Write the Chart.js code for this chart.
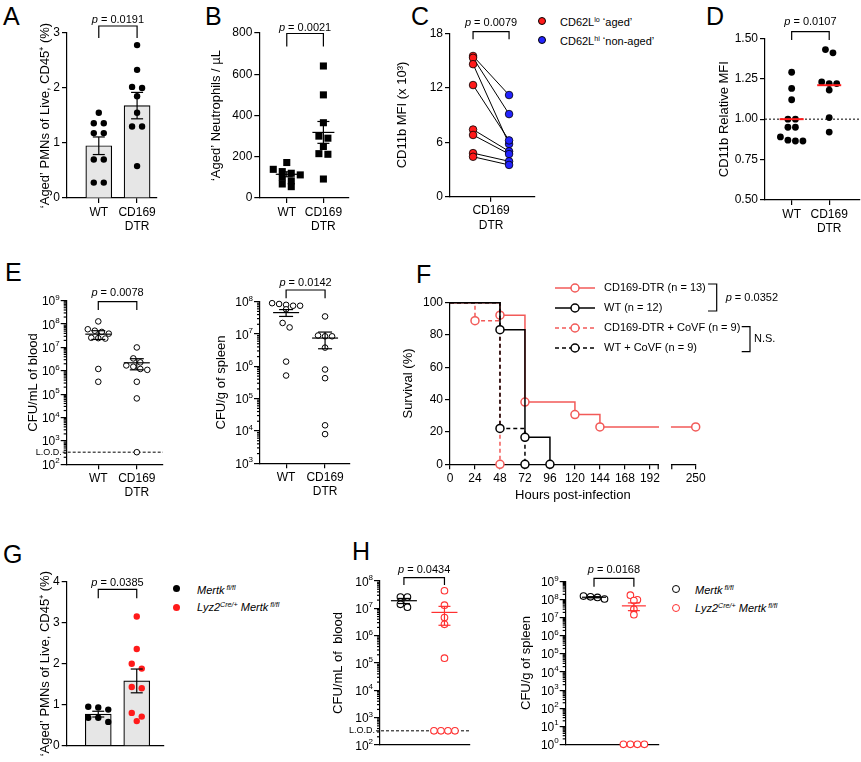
<!DOCTYPE html>
<html>
<head>
<meta charset="utf-8">
<title>Aged neutrophils figure</title>
<script src="https://cdn.jsdelivr.net/npm/chart.js@4.4.1/dist/chart.umd.min.js"></script>
<style>
  body { margin: 0; background: #fff; }
  #fig { position: relative; width: 861px; height: 762px; overflow: hidden; background: #fff;
         font-family: "Liberation Sans", Arial, Helvetica, sans-serif; color: #000; }
  #fig canvas { position: absolute; }
  .letter { position: absolute; font-size: 25px; line-height: 25px; }
  .lg { position: absolute; font-size: 11px; line-height: 14px; white-space: nowrap; }
  .lg sup { font-size: 65%; line-height: 0; vertical-align: 0.6em; }
  .lg i sup { font-style: italic; }
  .mk { position: absolute; width: 8px; height: 8px; border-radius: 50%; box-sizing: border-box; }
</style>
</head>
<body>
<div id="fig">
  <div class="letter" style="left:3px;top:4px">A</div>
  <div class="letter" style="left:205px;top:4px">B</div>
  <div class="letter" style="left:411px;top:4px">C</div>
  <div class="letter" style="left:706px;top:4px">D</div>
  <div class="letter" style="left:5px;top:260px">E</div>
  <div class="letter" style="left:416px;top:262px">F</div>
  <div class="letter" style="left:3px;top:542px">G</div>
  <div class="letter" style="left:352px;top:539px">H</div>

  <div class="mk" style="left:538px;top:17px;background:#ff1a1a;border:1px solid #000"></div>
  <div class="lg" style="left:560px;top:15px">CD62L<sup>lo</sup> ‘aged’</div>
  <div class="mk" style="left:538px;top:36px;background:#2323ff;border:1px solid #000"></div>
  <div class="lg" style="left:560px;top:34px">CD62L<sup>hi</sup> ‘non-aged’</div>

  <div class="mk" style="left:173px;top:585px;width:7px;height:7px;background:#000"></div>
  <div class="lg" style="left:197px;top:583px"><i>Mertk<sup> fl/fl</sup></i></div>
  <div class="mk" style="left:173px;top:604px;width:7px;height:7px;background:#ff1a1a"></div>
  <div class="lg" style="left:197px;top:600px"><i>Lyz2<sup>Cre/+</sup> Mertk<sup> fl/fl</sup></i></div>

  <div class="mk" style="left:672px;top:585px;border:1.2px solid #000"></div>
  <div class="lg" style="left:695px;top:583px"><i>Mertk<sup> fl/fl</sup></i></div>
  <div class="mk" style="left:672px;top:604px;border:1.2px solid #ff3030"></div>
  <div class="lg" style="left:695px;top:601px"><i>Lyz2<sup>Cre/+</sup> Mertk<sup> fl/fl</sup></i></div>
</div>

<script>
// ---- data ----
const wtDtrLabels = ['WT', ['CD169', 'DTR']];

// A: 'aged' PMNs, % of live CD45+
const agedPmnWT   = [1.55, 1.36, 1.36, 1.18, 1.18, 0.70, 0.70, 0.28, 0.28];
const agedPmnDTR  = [2.78, 2.33, 2.02, 2.00, 1.85, 1.55, 1.30, 1.30, 0.58];
const agedPmnMean = [0.95, 1.68];
const agedPmnSem  = [0.16, 0.24];

// B: 'aged' neutrophils per uL
const agedNeutWT   = [172, 139, 128, 120, 112, 100, 83, 68, 55];
const agedNeutDTR  = [640, 500, 365, 300, 290, 250, 215, 212, 92];
const agedNeutMean = [115, 318];
const agedNeutSem  = [12, 53];

// C: CD11b MFI (x 10^3), paired
const cd11bAged    = [15.5, 15.3, 14.6, 12.3, 7.4, 6.8, 4.8, 4.4];
const cd11bNonAged = [11.2, 9.1, 5.8, 6.2, 5.0, 4.7, 3.9, 3.5];

// D: CD11b relative MFI
const relMfiWT     = [1.29, 1.19, 1.12, 1.00, 1.00, 0.95, 0.95, 0.89, 0.87, 0.865, 0.865];
const relMfiDTR    = [1.43, 1.41, 1.23, 1.22, 1.22, 1.18, 1.01, 0.92];
const relMfiMedian = [1.00, 1.21];

// E: CFU
const lodCfu        = 330;
const bloodCfuWT    = [1.3e8, 6.0e7, 5.2e7, 4.6e7, 3.9e7, 2.6e7, 2.5e7, 2.4e7, 1.2e6, 3.4e5];
const bloodCfuDTR   = [1.0e7, 3.4e6, 2.3e6, 1.7e6, 1.5e6, 1.2e6, 1.1e6, 3.4e5, 6.6e4, 330];
const bloodCfuMean  = [3.7e7, 2.2e6];
const bloodCfuSem   = [1.5e7, 1.1e6];
const spleenCfuWT   = [9.0e7, 8.5e7, 8.0e7, 7.5e7, 7.5e7, 5.8e7, 2.2e7, 1.6e7, 1.4e6, 5.2e5];
const spleenCfuDTR  = [3.5e7, 9.0e6, 8.5e6, 8.5e6, 3.8e6, 8.0e5, 4.3e5, 1.5e4, 8.0e3];
const spleenCfuMean = [4.6e7, 7.5e6];
const spleenCfuSem  = [1.1e7, 4.0e6];

// F: survival (hours, % surviving)
const survTickHours = [0, 24, 48, 72, 96, 120, 144, 168, 192, 250];
const survDtrT      = [0, 48, 72, 120, 144, 250];
const survDtrS      = [100, 92.3, 38.5, 30.8, 23.1, 23.1];
const survWtT       = [0, 48, 72, 96];
const survWtS       = [100, 83.3, 16.7, 0];
const survDtrCovfT  = [0, 24, 48];
const survDtrCovfS  = [100, 88.9, 0];
const survWtCovfT   = [0, 48, 72];
const survWtCovfS   = [100, 22.2, 0];

// G: 'aged' PMNs, Mertk
const mertkAgedWT   = [0.88, 0.95, 0.93, 0.58, 0.68, 0.68];
const mertkAgedKO   = [3.15, 2.36, 2.00, 1.88, 1.43, 1.40, 0.80, 0.71, 0.60];
const mertkAgedMean = [0.77, 1.58];
const mertkAgedSem  = [0.07, 0.29];

// H: CFU, Mertk (values at the axis floor were below detection)
const mertkBloodWT    = [2.6e7, 2.6e7, 1.4e7, 1.1e7];
const mertkBloodKO    = [4.4e7, 1.3e7, 4.6e6, 2.6e6, 1.5e5, 330, 330, 330, 330];
const mertkBloodMean  = [1.9e7, 7.1e6];
const mertkBloodSem   = [4.0e6, 4.7e6];
const mertkSpleenWT   = [1.1e8, 1.35e8, 1.6e8, 1.45e8];
const mertkSpleenKO   = [1.8e8, 1.0e8, 9.0e7, 3.0e7, 1.5e7, 1, 1, 1, 1];
const mertkSpleenMean = [1.38e8, 4.6e7];
const mertkSpleenSem  = [1.0e7, 2.1e7];

// ---- helpers ----
const FONT = '"Liberation Sans", Arial, Helvetica, sans-serif';
const RED = '#ff1a1a', BLUE = '#2323ff', SALMON = '#f25a58', HRED = '#ff3030';

Chart.defaults.font.family = FONT;
Chart.defaults.color = '#000';
Chart.defaults.animation = false;
Chart.defaults.events = [];
Chart.defaults.plugins.legend.display = false;
Chart.defaults.plugins.tooltip.enabled = false;

const fig = document.getElementById('fig');

function line(ctx, x1, y1, x2, y2) {
    ctx.beginPath(); ctx.moveTo(x1, y1); ctx.lineTo(x2, y2); ctx.stroke();
}

function pText(ctx, val, x, cy, size, align) {
    ctx.font = 'italic ' + size + 'px ' + FONT;
    const w1 = ctx.measureText('p').width;
    ctx.font = size + 'px ' + FONT;
    const rest = ' = ' + val;
    const w2 = ctx.measureText(rest).width;
    const x0 = align === 'left' ? x : x - (w1 + w2) / 2;
    ctx.textAlign = 'left'; ctx.textBaseline = 'middle'; ctx.fillStyle = '#000';
    ctx.font = 'italic ' + size + 'px ' + FONT;
    ctx.fillText('p', x0, cy);
    ctx.font = size + 'px ' + FONT;
    ctx.fillText(rest, x0 + w1, cy);
}

// prism-style extras: minor log ticks, 10^n labels, error bars, brackets, reference lines
const prism = {
    id: 'prism',
    beforeDatasetsDraw(chart, args, o) {
        if (!o.hline) return;
        const {ctx, chartArea: a, scales: {y}} = chart;
        const h = o.hline, py = y.getPixelForValue(h.value);
        ctx.save();
        ctx.strokeStyle = '#000'; ctx.lineWidth = 1; ctx.setLineDash(h.dash);
        line(ctx, h.label ? a.left - 4 : a.left, py, a.right, py);
        ctx.setLineDash([]);
        if (h.label) {
            ctx.font = '9px ' + FONT; ctx.textAlign = 'right'; ctx.textBaseline = 'middle'; ctx.fillStyle = '#000';
            ctx.fillText(h.label, a.left - 5, py);
        }
        ctx.restore();
    },
    afterDatasetsDraw(chart, args, o) {
        const {ctx, chartArea: a, scales: {x, y}} = chart;
        ctx.save();
        ctx.strokeStyle = '#000'; ctx.fillStyle = '#000'; ctx.lineWidth = 1.2;
        if (y.type === 'logarithmic') {
            const lo = Math.round(Math.log10(y.min)), hi = Math.round(Math.log10(y.max));
            for (let e = lo; e < hi; e++) {
                for (let m = 2; m < 10; m++) {
                    const py = y.getPixelForValue(m * Math.pow(10, e));
                    line(ctx, a.left - 3, py, a.left, py);
                }
            }
            ctx.textAlign = 'right'; ctx.textBaseline = 'alphabetic';
            for (let e = lo; e <= hi; e++) {
                const py = y.getPixelForValue(Math.pow(10, e));
                ctx.font = '8px ' + FONT;
                const ew = ctx.measureText(String(e)).width;
                ctx.fillText(String(e), a.left - 7, py - 1);
                ctx.font = '12px ' + FONT;
                ctx.fillText('10', a.left - 7 - ew, py + 4.5);
            }
        }
        if (o.err) {
            const e = o.err;
            e.mean.forEach((m, i) => {
                const px = x.getPixelForValue(i);
                ctx.strokeStyle = (e.colors && e.colors[i]) || '#000';
                ctx.lineWidth = e.lw || 1.2;
                const pm = y.getPixelForValue(m);
                if (e.meanW) line(ctx, px - e.meanW / 2, pm, px + e.meanW / 2, pm);
                if (e.sem) {
                    const pt = y.getPixelForValue(m + e.sem[i]);
                    const pb = y.getPixelForValue(Math.max(m - e.sem[i], y.min));
                    line(ctx, px, pt, px, pb);
                    line(ctx, px - e.capW / 2, pt, px + e.capW / 2, pt);
                    line(ctx, px - e.capW / 2, pb, px + e.capW / 2, pb);
                }
            });
        }
        if (o.bracket) {
            const b = o.bracket;
            const xa = x.getPixelForValue(b.from), xb = x.getPixelForValue(b.to);
            const yt = a.top + b.top;
            ctx.strokeStyle = '#000'; ctx.lineWidth = 1.2;
            ctx.beginPath();
            ctx.moveTo(xa, yt + b.leg); ctx.lineTo(xa, yt); ctx.lineTo(xb, yt); ctx.lineTo(xb, yt + b.leg);
            ctx.stroke();
            pText(ctx, b.text, (xa + xb) / 2, a.top + b.ty, 11);
        }
        ctx.restore();
    }
};

function yPx(p, v) {
    const {y0, y1} = p.plot;
    if (p.log) {
        const lo = Math.log10(p.yr[0]), hi = Math.log10(p.yr[1]);
        return y1 - (Math.log10(v) - lo) / (hi - lo) * (y1 - y0);
    }
    return y1 - (v - p.yr[0]) / (p.yr[1] - p.yr[0]) * (y1 - y0);
}

// spread points of similar value into symmetric rows (pixel offsets)
function swarm(vals, toPx, gap) {
    const order = vals.map((v, i) => i).sort((a, b) => vals[b] - vals[a]);
    const off = vals.map(() => 0);
    let row = [];
    const flush = () => {
        row.forEach((i, k) => { off[i] = (k - (row.length - 1) / 2) * gap; });
        row = [];
    };
    order.forEach(i => {
        if (row.length && Math.abs(toPx(vals[i]) - toPx(vals[row[0]])) > gap * 0.7) flush();
        row.push(i);
    });
    flush();
    return off;
}

function dots(p, vals, group, gap, style) {
    const perCat = (p.plot.x1 - p.plot.x0) / (p.xr[1] - p.xr[0]);
    const off = swarm(vals, v => yPx(p, v), gap);
    return Object.assign({
        type: 'scatter',
        data: vals.map((v, k) => ({x: group + off[k] / perCat, y: v})),
        clip: false, order: 0,
        pointRadius: 3, pointBorderWidth: 0, pointBackgroundColor: '#000', pointBorderColor: '#000'
    }, style);
}

function bars(means) {
    return {
        type: 'bar', data: means.map((m, i) => ({x: i, y: m})),
        backgroundColor: '#e6e6e6', borderColor: '#000', borderWidth: 1.2,
        barThickness: 26, order: 2
    };
}

function panel(p) {
    const cv = document.createElement('canvas');
    cv.width = p.box.w; cv.height = p.box.h;
    cv.style.left = p.box.l + 'px'; cv.style.top = p.box.t + 'px';
    fig.appendChild(cv);
    const titleLh = 13 * 1.2;
    const scaleLeft = p.titleX - titleLh / 2;
    const yTicks = p.log
        ? Array.from({length: Math.round(Math.log10(p.yr[1] / p.yr[0])) + 1}, (_, k) => p.yr[0] * Math.pow(10, k))
        : p.yTicks;
    const xTickLen = p.xTickLen === undefined ? 5 : p.xTickLen;
    return new Chart(cv, {
        type: 'scatter',
        data: {datasets: p.datasets},
        options: {
            responsive: false,
            layout: {padding: {left: scaleLeft - p.box.l, top: p.plot.y0 - p.box.t,
                               right: p.box.l + p.box.w - p.plot.x1, bottom: 0}},
            scales: {
                x: {
                    type: 'linear', min: p.xr[0], max: p.xr[1], offset: false,
                    afterBuildTicks: s => { s.ticks = p.xTicks.map(v => ({value: v})); },
                    afterFit: s => { s.height = p.box.t + p.box.h - p.plot.y1; },
                    ticks: {display: !!p.xLabel, callback: p.xLabel || (() => ''), font: {size: 12},
                            padding: 2, maxRotation: 0, autoSkip: false},
                    grid: {offset: false, drawOnChartArea: false, color: '#000', lineWidth: 1.2,
                           tickLength: xTickLen, drawTicks: xTickLen > 0},
                    border: {color: '#000', width: 1.2},
                    title: p.xTitle ? {display: true, text: p.xTitle, font: {size: 13}, padding: 0} : {display: false}
                },
                y: {
                    type: p.log ? 'logarithmic' : 'linear', min: p.yr[0], max: p.yr[1],
                    afterBuildTicks: s => { s.ticks = yTicks.map(v => ({value: v})); },
                    afterFit: s => { s.width = p.plot.x0 - scaleLeft; },
                    ticks: {display: !p.log, callback: p.yFmt || (v => v), font: {size: 12}, padding: 2},
                    grid: {drawOnChartArea: false, color: '#000', lineWidth: 1.2, tickLength: p.log ? 6 : 5},
                    border: {color: '#000', width: 1.2},
                    title: {display: true, text: p.yTitle, font: {size: 13}, padding: 0}
                }
            },
            plugins: Object.assign({prism: p.prism || {}}, p.pluginOpts || {})
        },
        plugins: [prism].concat(p.plugins || [])
    });
}

const blackDot = {pointRadius: 3.2};
const wtDtrTick = v => wtDtrLabels[v];

// ---- A ----
const pA = {box: {l: 0, t: 0, w: 200, h: 240}, plot: {x0: 67, x1: 157, y0: 33, y1: 198}, titleX: 45,
    xr: [-0.83, 1.52], yr: [0, 3], yTicks: [0, 1, 2, 3], xTicks: [0, 1], xLabel: wtDtrTick,
    yTitle: '‘Aged’ PMNs of Live, CD45⁺ (%)'};
pA.datasets = [dots(pA, agedPmnWT, 0, 10, blackDot), dots(pA, agedPmnDTR, 1, 10, blackDot), bars(agedPmnMean)];
pA.prism = {err: {mean: agedPmnMean, sem: agedPmnSem, capW: 12},
            bracket: {from: 0, to: 1, text: '0.0191', top: -7, leg: 12, ty: -13}};
panel(pA);

// ---- B ----
const square = {pointStyle: 'rect', pointRadius: 5};
const pB = {box: {l: 200, t: 0, w: 190, h: 240}, plot: {x0: 259.3, x1: 348.3, y0: 33, y1: 198}, titleX: 216.7,
    xr: [-0.75, 1.68], yr: [0, 800], yTicks: [0, 200, 400, 600, 800], xTicks: [0, 1], xLabel: wtDtrTick,
    yTitle: '‘Aged’ Neutrophils / µL'};
pB.datasets = [dots(pB, agedNeutWT, 0, 9, square), dots(pB, agedNeutDTR, 1, 9, square)];
pB.prism = {err: {mean: agedNeutMean, sem: agedNeutSem, meanW: 22, capW: 12},
            bracket: {from: 0, to: 1, text: '0.0021', top: 0.5, leg: 13, ty: -5}};
panel(pB);

// ---- C ----
const pC = {box: {l: 385, t: 0, w: 200, h: 240}, plot: {x0: 450, x1: 535, y0: 33.3, y1: 196.7}, titleX: 402,
    xr: [-1.14, 1.22], yr: [0, 18], yTicks: [0, 6, 12, 18], xTicks: [0], xLabel: () => ['CD169', 'DTR'],
    yTitle: 'CD11b MFI (x 10³)'};
pC.datasets = [
    {type: 'scatter', data: cd11bAged.map(v => ({x: -0.5, y: v})), clip: false, order: 0,
     pointRadius: 3.8, pointBackgroundColor: RED, pointBorderColor: '#000', pointBorderWidth: 0.8},
    {type: 'scatter', data: cd11bNonAged.map(v => ({x: 0.5, y: v})), clip: false, order: 0,
     pointRadius: 3.8, pointBackgroundColor: BLUE, pointBorderColor: '#000', pointBorderWidth: 0.8}
].concat(cd11bAged.map((v, i) => ({
    type: 'scatter', showLine: true, data: [{x: -0.5, y: v}, {x: 0.5, y: cd11bNonAged[i]}],
    borderColor: '#000', borderWidth: 1, pointRadius: 0, order: 1
})));
pC.prism = {bracket: {from: -0.5, to: 0.5, text: '0.0079', top: -1.6, leg: 7.6, ty: -10}};
panel(pC);

// ---- D ----
const pD = {box: {l: 690, t: 0, w: 200, h: 240}, plot: {x0: 765, x1: 860, y0: 38.3, y1: 200}, titleX: 724,
    xr: [-0.71, 1.82], yr: [0.5, 1.5], yTicks: [0.5, 0.75, 1, 1.25, 1.5], xTicks: [0, 1], xLabel: wtDtrTick,
    yFmt: v => v.toFixed(2), yTitle: 'CD11b Relative MFI'};
pD.datasets = [dots(pD, relMfiWT, 0, 7.5, {pointRadius: 3.4}), dots(pD, relMfiDTR, 1, 7.5, {pointRadius: 3.4})];
pD.prism = {hline: {value: 1, dash: [2, 2]},
            err: {mean: relMfiMedian, meanW: 24, colors: [RED, RED], lw: 2},
            bracket: {from: 0, to: 1, text: '0.0107', top: -6.6, leg: 8.3, ty: -16.6}};
panel(pD);

// ---- E ----
const openDot = {pointRadius: 2.8, pointBackgroundColor: '#fff', pointBorderColor: '#000', pointBorderWidth: 1};
const pE1 = {box: {l: 0, t: 250, w: 200, h: 250}, plot: {x0: 66.7, x1: 163, y0: 300.7, y1: 464.3}, titleX: 33,
    xr: [-0.82, 1.68], yr: [1e2, 1e9], log: true, xTicks: [0, 1], xLabel: wtDtrTick, yTitle: 'CFU/mL of blood'};
pE1.datasets = [dots(pE1, bloodCfuWT, 0, 7, openDot), dots(pE1, bloodCfuDTR, 1, 7, openDot)];
pE1.prism = {hline: {value: lodCfu, dash: [3, 2], label: 'L.O.D.'},
             err: {mean: bloodCfuMean, sem: bloodCfuSem, meanW: 26, capW: 14},
             bracket: {from: 0, to: 1, text: '0.0078', top: 1, leg: 8.3, ty: -7.4}};
panel(pE1);

const pE2 = {box: {l: 190, t: 250, w: 190, h: 250}, plot: {x0: 260, x1: 350, y0: 301.7, y1: 463.3}, titleX: 221.7,
    xr: [-0.67, 1.64], yr: [1e3, 1e8], log: true, xTicks: [0, 1], xLabel: wtDtrTick, yTitle: 'CFU/g of spleen'};
pE2.datasets = [dots(pE2, spleenCfuWT, 0, 7, openDot), dots(pE2, spleenCfuDTR, 1, 7, openDot)];
pE2.prism = {err: {mean: spleenCfuMean, sem: spleenCfuSem, meanW: 26, capW: 14},
             bracket: {from: 0, to: 1, text: '0.0142', top: -11.7, leg: 8.3, ty: -18.4}};
panel(pE2);

// ---- F: survival with broken time axis ----
const breakHour = 200, breakGap = 13, tailScale = 0.46;
function hx(h) { return h <= breakHour ? h : breakHour + breakGap + (h - breakHour) * tailScale; }

function survSet(label, t, s, color, dash, order) {
    return {
        type: 'scatter', label, showLine: true, stepped: 'before', order, clip: false,
        data: t.map((h, i) => ({x: hx(h), y: s[i]})),
        borderColor: color, borderWidth: 1.5, borderDash: dash,
        pointRadius: t.map((h, i) => (i ? 4 : 0)),
        pointBackgroundColor: '#fff', pointBorderColor: color, pointBorderWidth: 1.5
    };
}

const survivalDecor = {
    id: 'survivalDecor',
    afterDraw(chart, args, o) {
        const {ctx, chartArea: a, scales: {x}} = chart;
        const [ox, oy] = o.origin;
        ctx.save();
        const b0 = x.getPixelForValue(breakHour), b1 = x.getPixelForValue(breakHour + breakGap);
        ctx.fillStyle = '#fff';
        ctx.fillRect(b0 + 0.8, a.top - 10, b1 - b0 - 1.6, a.bottom - a.top + 16);
        ctx.strokeStyle = '#000'; ctx.lineWidth = 1.2;
        line(ctx, b0, a.bottom, b0, a.bottom + 5);
        line(ctx, b1, a.bottom, b1, a.bottom + 5);
        chart.data.datasets.forEach((ds, i) => {
            const yy = o.rows[i] - oy, x0 = o.sample[0] - ox, x1 = o.sample[1] - ox;
            ctx.strokeStyle = ds.borderColor; ctx.lineWidth = ds.borderWidth;
            ctx.setLineDash(ds.borderDash || []);
            line(ctx, x0, yy, x1, yy);
            ctx.setLineDash([]);
            ctx.beginPath(); ctx.arc((x0 + x1) / 2, yy, 4, 0, Math.PI * 2);
            ctx.fillStyle = '#fff'; ctx.fill(); ctx.stroke();
            ctx.fillStyle = '#000'; ctx.font = '11px ' + FONT; ctx.textAlign = 'left'; ctx.textBaseline = 'middle';
            ctx.fillText(ds.label, o.textX - ox, yy);
        });
        ctx.strokeStyle = '#000'; ctx.lineWidth = 1.2;
        o.brackets.forEach(br => {
            ctx.beginPath();
            ctx.moveTo(br.left - ox, br.top - oy); ctx.lineTo(br.x - ox, br.top - oy);
            ctx.lineTo(br.x - ox, br.bottom - oy); ctx.lineTo(br.left - ox, br.bottom - oy);
            ctx.stroke();
            if (br.p) pText(ctx, br.p, br.x + 9 - ox, (br.top + br.bottom) / 2 - oy, 11, 'left');
            else {
                ctx.fillStyle = '#000'; ctx.font = '11px ' + FONT; ctx.textAlign = 'left'; ctx.textBaseline = 'middle';
                ctx.fillText(br.text, br.x + 4 - ox, (br.top + br.bottom) / 2 - oy);
            }
        });
        ctx.restore();
    }
};

const pF = {box: {l: 385, t: 250, w: 476, h: 253}, plot: {x0: 450, x1: 695.7, y0: 302.7, y1: 464.3}, titleX: 408,
    xr: [0, hx(250)], yr: [0, 100], yTicks: [0, 20, 40, 60, 80, 100],
    xTicks: survTickHours.map(hx), xLabel: (v, i) => survTickHours[i],
    xTitle: 'Hours post-infection', yTitle: 'Survival (%)'};
pF.datasets = [
    survSet('CD169-DTR (n = 13)', survDtrT, survDtrS, SALMON, [], 2),
    survSet('WT (n = 12)', survWtT, survWtS, '#000', [], 0),
    survSet('CD169-DTR + CoVF (n = 9)', survDtrCovfT, survDtrCovfS, SALMON, [4, 3], 3),
    survSet('WT + CoVF (n = 9)', survWtCovfT, survWtCovfS, '#000', [4, 3], 1)
];
pF.plugins = [survivalDecor];
pF.pluginOpts = {survivalDecor: {
    origin: [385, 250], rows: [288, 308, 328, 348], sample: [555, 595], textX: 604,
    brackets: [{x: 716.7, left: 708, top: 284, bottom: 311, p: '0.0352'},
               {x: 750, left: 741.7, top: 326.7, bottom: 351.7, text: 'N.S.'}]
}};
panel(pF);

// ---- G ----
const pG = {box: {l: 0, t: 545, w: 200, h: 217}, plot: {x0: 66.7, x1: 163.3, y0: 581.7, y1: 745.7}, titleX: 45,
    xr: [-0.82, 1.69], yr: [0, 4], yTicks: [0, 1, 2, 3, 4], xTicks: [], xTickLen: 0,
    yTitle: '‘Aged’ PMNs of Live, CD45⁺ (%)'};
pG.datasets = [dots(pG, mertkAgedWT, 0, 10, blackDot),
               dots(pG, mertkAgedKO, 1, 10, {pointRadius: 3.2, pointBackgroundColor: RED, pointBorderColor: RED}),
               bars(mertkAgedMean)];
pG.prism = {err: {mean: mertkAgedMean, sem: mertkAgedSem, capW: 12},
            bracket: {from: 0, to: 1, text: '0.0385', top: 7.6, leg: 9, ty: 1}};
panel(pG);

// ---- H ----
const openRed = {pointRadius: 3.3, pointBackgroundColor: '#fff', pointBorderColor: HRED, pointBorderWidth: 1.1};
const openBlk = {pointRadius: 3.3, pointBackgroundColor: '#fff', pointBorderColor: '#000', pointBorderWidth: 1.1};
const pH1 = {box: {l: 320, t: 545, w: 200, h: 217}, plot: {x0: 380, x1: 470, y0: 581, y1: 745}, titleX: 338.3,
    xr: [-0.59, 1.63], yr: [1e2, 1e8], log: true, xTicks: [], xTickLen: 0, yTitle: 'CFU/mL of  blood'};
pH1.datasets = [dots(pH1, mertkBloodWT, 0, 7, openBlk), dots(pH1, mertkBloodKO, 1, 7, openRed)];
pH1.prism = {hline: {value: lodCfu, dash: [3, 2], label: 'L.O.D.'},
             err: {mean: mertkBloodMean, sem: mertkBloodSem, meanW: 26, capW: 12, colors: ['#000', HRED]},
             bracket: {from: 0, to: 1, text: '0.0434', top: -3.3, leg: 7.3, ty: -11}};
panel(pH1);

const pH2 = {box: {l: 500, t: 545, w: 200, h: 217}, plot: {x0: 565.7, x1: 659, y0: 581.7, y1: 744.3}, titleX: 526.7,
    xr: [-0.71, 1.63], yr: [1, 1e9], log: true, xTicks: [], xTickLen: 0, yTitle: 'CFU/g of spleen'};
pH2.datasets = [dots(pH2, mertkSpleenWT, 0, 7, openBlk), dots(pH2, mertkSpleenKO, 1, 7, openRed)];
pH2.prism = {err: {mean: mertkSpleenMean, sem: mertkSpleenSem, meanW: 24, capW: 12, colors: ['#000', HRED]},
             bracket: {from: 0, to: 1, text: '0.0168', top: -3.4, leg: 8.4, ty: -11.7}};
panel(pH2);
</script>
</body>
</html>
